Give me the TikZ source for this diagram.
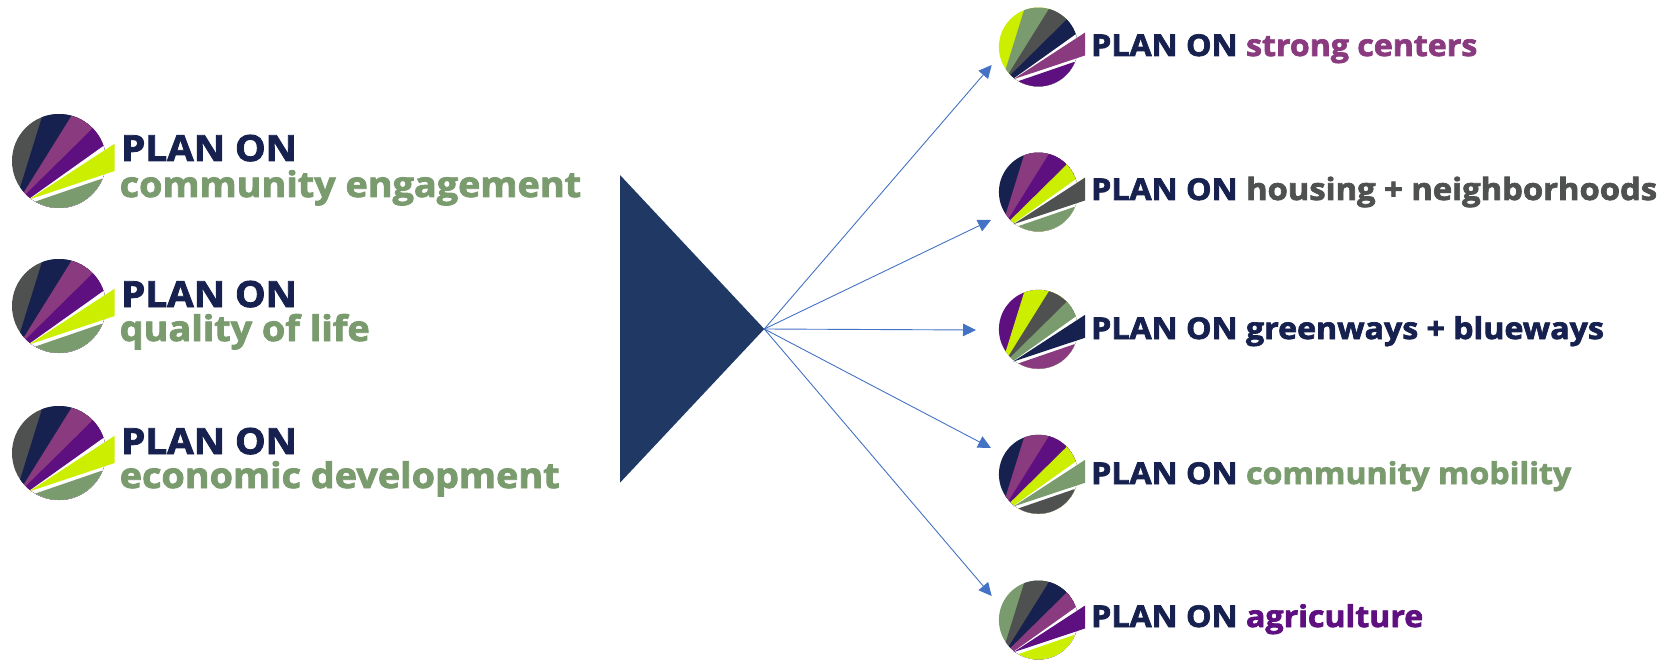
\documentclass[tikz,border=0pt]{standalone}
\usepackage{fontspec}
\setmainfont{Open Sans Bold}[FakeBold=2.4,FakeStretch=1.07]
\usetikzlibrary{positioning,arrows.meta}
\definecolor{navy}{HTML}{16214F}
\definecolor{slategray}{HTML}{4E5150}
\definecolor{plum}{HTML}{8A3A7E}
\definecolor{grape}{HTML}{5E0F80}
\definecolor{lime}{HTML}{CCEE00}
\definecolor{sage}{HTML}{7A9B6E}
\definecolor{wedge}{HTML}{1F3864}
\definecolor{ray}{HTML}{4472C4}
\tikzset{
	big/.style={
		anchor=base west,
		inner sep=0pt,
		font=\fontsize{36}{36}\selectfont
	},
	bigtopic/.style={
		anchor=base west,
		inner sep=0pt,
		text=sage,
		font=\fontsize{35.3}{36}\selectfont
	},
	small/.style={
		anchor=base west,
		inner sep=0pt,
		font=\fontsize{30}{30}\selectfont
	}
}
% centre, scale, then the six colours going round the fan
\newcommand{\planlogo}[8]{
	\begin{scope}[shift={(#1)},x=#2pt,y=#2pt]
		\begin{scope}
			\clip (2,0) circle (47);
			\fill[#3] (2,0) circle (47);
			\fill[#4] (-37.3,-27.7) -- (-15,44) -- (-15,80) -- (80,80) -- (80,-80) -- (-37.3,-80) -- cycle;
			\fill[#5] (-33,-31) -- (15,46) -- (15,80) -- (80,80) -- (80,-80) -- (-33,-80) -- cycle;
			\fill[#6] (-32,-34) -- (35,32) -- (35,80) -- (80,80) -- (80,-80) -- (-32,-80) -- cycle;
			\fill[white] (-28,-38) -- (45,14) -- (80,40) -- (80,-80) -- (-28,-80) -- cycle;
			\fill[#8] (-23,-41) -- (44,-18) -- (80,-18) -- (80,-80) -- (-23,-80) -- cycle;
		\end{scope}
		\fill[#7] (-28,-38.5) -- (57.7,17.3) -- (57.7,-10) -- cycle;
	\end{scope}
}
\begin{document}
\begin{tikzpicture}[x=1pt,y=-1pt]
		\tikzstyle{connect}=[draw=ray, line width=0.9pt, -{Triangle[length=13pt,width=12.5pt]}]
		\useasboundingbox (0,0) rectangle (1670,660);
		
		\planlogo{57,161}{1}{slategray}{navy}{plum}{grape}{lime}{sage}
		\planlogo{57,306}{1}{slategray}{navy}{plum}{grape}{lime}{sage}
		\planlogo{57,453}{1}{slategray}{navy}{plum}{grape}{lime}{sage}
		
		\node[big, text=navy] (a1) at (121,161) {PLAN ON};
		\node[bigtopic] (a2) at (119.5,197) {community engagement};
		\node[big, text=navy] (b1) at (121,307) {PLAN ON};
		\node[bigtopic] (b2) at (119.5,341) {quality of life};
		\node[big, text=navy] (c1) at (121,454) {PLAN ON};
		\node[bigtopic] (c2) at (119.5,488) {economic development};
		
		\fill[wedge] (620,175) -- (764.3,329) -- (620,482.7) -- cycle;
		\coordinate (apex) at (764.3,329);
		
		\planlogo{1036.7,47}{0.84}{lime}{sage}{slategray}{navy}{plum}{grape}
		\planlogo{1036.7,192}{0.84}{navy}{plum}{grape}{lime}{slategray}{sage}
		\planlogo{1036.7,329.3}{0.84}{grape}{lime}{slategray}{sage}{navy}{plum}
		\planlogo{1036.7,474.3}{0.84}{navy}{plum}{grape}{lime}{sage}{slategray}
		\planlogo{1036.7,620}{0.84}{sage}{slategray}{navy}{plum}{grape}{lime}
		
		\node[small] (d) at (1091,56) {\textcolor{navy}{PLAN ON} \textcolor{plum}{strong centers}};
		\node[small] (e) at (1091,200) {\textcolor{navy}{PLAN ON} \textcolor{slategray}{\fontsize{30.6}{30}\selectfont housing + neighborhoods}};
		\node[small] (f) at (1091,339) {\textcolor{navy}{PLAN ON} \textcolor{navy}{greenways + blueways}};
		\node[small] (g) at (1091,484) {\textcolor{navy}{PLAN ON} \textcolor{sage}{community mobility}};
		\node[small] (h) at (1091,627) {\textcolor{navy}{PLAN ON} \textcolor{grape}{agriculture}};
		
		\coordinate (d0) at (991.7,65);
		\coordinate (e0) at (991,220);
		\coordinate (f0) at (976,330);
		\coordinate (g0) at (991,448);
		\coordinate (h0) at (991.7,596);
		
		\path
		(apex) edge [connect] (d0)
		(apex) edge [connect] (e0)
		(apex) edge [connect] (f0)
		(apex) edge [connect] (g0)
		(apex) edge [connect] (h0)
		;
		
		\end{tikzpicture}
\end{document}
